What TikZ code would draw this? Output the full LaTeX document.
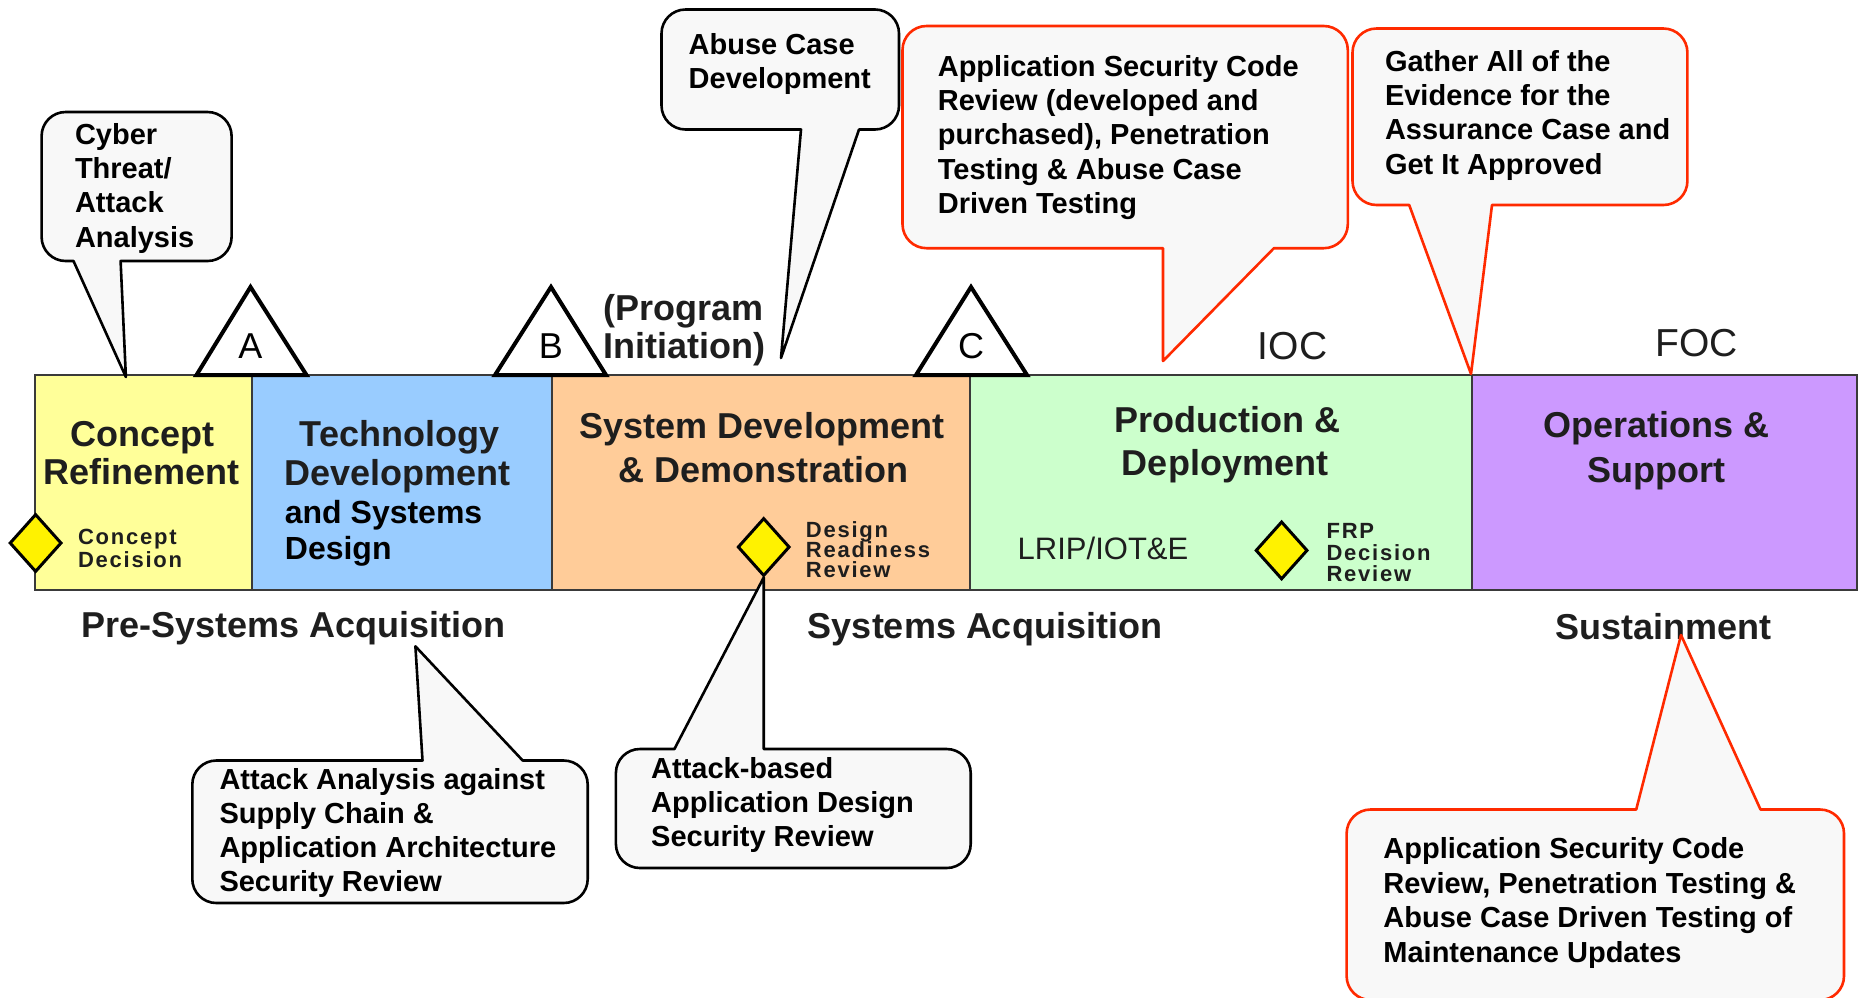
\documentclass[tikz,border=0pt]{standalone}
\usepackage{fontspec}
\setmainfont{Liberation Sans}
\newfontfamily\spacedfont[LetterSpace=8]{Liberation Sans}
\usetikzlibrary{shapes.geometric}
\definecolor{cConcept}{HTML}{FFFF99}
\definecolor{cTech}{HTML}{99CCFF}
\definecolor{cSDD}{HTML}{FFCC99}
\definecolor{cPD}{HTML}{CCFFCC}
\definecolor{cOS}{HTML}{CC99FF}
\definecolor{bubfill}{HTML}{F8F8F8}
\definecolor{bubred}{HTML}{FF2A00}
\definecolor{edgegrey}{HTML}{3A3A3A}
\definecolor{titlegrey}{HTML}{1E1E1E}
% speech bubble, pointer on bottom edge: style, x1, ytop, x2, ybot, base-left x, base-right x, tip
\newcommand{\bubdn}[8]{%
  \draw[#1] (#2+24,#3) -- (#4-24,#3) .. controls (#4-10.75,#3) and (#4,#3+10.75) .. (#4,#3+24)
    -- (#4,#5-24) .. controls (#4,#5-10.75) and (#4-10.75,#5) .. (#4-24,#5)
    -- (#7,#5) -- (#8) -- (#6,#5)
    -- (#2+24,#5) .. controls (#2+10.75,#5) and (#2,#5-10.75) .. (#2,#5-24)
    -- (#2,#3+24) .. controls (#2,#3+10.75) and (#2+10.75,#3) .. (#2+24,#3) -- cycle;}
% speech bubble, pointer on top edge
\newcommand{\bubup}[8]{%
  \draw[#1] (#2+24,#3) -- (#6,#3) -- (#8) -- (#7,#3)
    -- (#4-24,#3) .. controls (#4-10.75,#3) and (#4,#3+10.75) .. (#4,#3+24)
    -- (#4,#5-24) .. controls (#4,#5-10.75) and (#4-10.75,#5) .. (#4-24,#5)
    -- (#2+24,#5) .. controls (#2+10.75,#5) and (#2,#5-10.75) .. (#2,#5-24)
    -- (#2,#3+24) .. controls (#2,#3+10.75) and (#2+10.75,#3) .. (#2+24,#3) -- cycle;}
\begin{document}
\begin{tikzpicture}[x=1pt,y=-1pt,
  ct/.style={font=\bfseries\fontsize{29}{34}\selectfont, anchor=base west, inner sep=0},
  ttl/.style={font=\bfseries\fontsize{36}{40}\selectfont, text=titlegrey, anchor=base, inner sep=0},
  sub/.style={font=\bfseries\fontsize{32}{36}\selectfont, anchor=base west, inner sep=0},
  phaselbl/.style={font=\bfseries\fontsize{36}{40}\selectfont, text=titlegrey, anchor=base, inner sep=0},
  smalltxt/.style={font=\spacedfont\bfseries\fontsize{22}{22}\selectfont, text=titlegrey, anchor=base west, inner sep=0},
  seg/.style={draw=edgegrey, line width=2},
  tri/.style={fill=white, draw=black, line width=4, line join=miter},
  diam/.style={diamond, fill=yellow, draw=black, line width=3, minimum width=52, minimum height=58, inner sep=0},
  bubk/.style={fill=bubfill, draw=black, line width=2.6, line join=round},
  bubr/.style={fill=bubfill, draw=bubred, line width=2.6, line join=round},
  lettr/.style={font=\fontsize{36}{40}\selectfont, anchor=base, inner sep=0},
  big/.style={font=\fontsize{39}{44}\selectfont, text=titlegrey, anchor=base, inner sep=0}
]
\useasboundingbox (0,0) rectangle (1862,997);
\fill[white] (0,0) rectangle (1862,997);

% phase bar
\draw[seg, fill=cConcept] (34.8,374.5) rectangle (252,590);
\draw[seg, fill=cTech] (252,374.5) rectangle (552.4,590);
\draw[seg, fill=cSDD] (552.4,374.5) rectangle (970,590);
\draw[seg, fill=cPD] (970,374.5) rectangle (1472,590);
\draw[seg, fill=cOS] (1472,374.5) rectangle (1857,590);

% milestones
\draw[tri] (196.5,375) -- (250.5,287) -- (306.5,375) -- cycle;
\draw[tri] (495,375) -- (551,287) -- (606,375) -- cycle;
\draw[tri] (916,375) -- (971,287) -- (1027,375) -- cycle;
\node[lettr] (lA) at (250.5,358) {A};
\node[lettr] (lB) at (550.8,358) {B};
\node[lettr] (lC) at (971,358) {C};
\node[ttl, anchor=base west] (prog1) at (603.5,320) {(Program};
\node[ttl, anchor=base west] (prog2) at (603.5,358) {Initiation)};
\node[big] (ioc) at (1292.6,359) {IOC};
\node[big] (foc) at (1696.8,356) {FOC};

% phase titles
\node[ttl] (cr1) at (142.3,446.5) {Concept};
\node[ttl] (cr2) at (141.3,484) {Refinement};
\node[ttl] (td1) at (399.4,446.5) {Technology};
\node[ttl] (td2) at (397.3,485) {Development};
\node[sub] (td3) at (284.7,523.5) {and Systems};
\node[sub] (td4) at (284.7,559) {Design};
\node[ttl] (sd1) at (762,438) {System Development};
\node[ttl] (sd2) at (763.7,482) {\& Demonstration};
\node[ttl] (pd1) at (1227,432.5) {Production \&};
\node[ttl] (pd2) at (1225,475.5) {Deployment};
\node[ttl] (os1) at (1656.5,437) {Operations \&};
\node[ttl] (os2) at (1656.5,482.6) {Support};

% decision points
\node[diam] (cd) at (35.6,543) {};
\node[diam] (drr) at (763.7,547) {};
\node[diam] (frp) at (1281.6,550.4) {};
\node[smalltxt] (cd1) at (77.9,544.7) {Concept};
\node[smalltxt] (cd2) at (77.9,567.4) {Decision};
\node[smalltxt] (drr1) at (805.7,537) {Design};
\node[smalltxt] (drr2) at (805.7,557.3) {Readiness};
\node[smalltxt] (drr3) at (805.7,577.6) {Review};
\node[smalltxt] (frp1) at (1326.4,538.5) {FRP};
\node[smalltxt] (frp2) at (1326.4,560) {Decision};
\node[smalltxt] (frp3) at (1326.4,581.5) {Review};
\node[font=\fontsize{31}{34}\selectfont, text=titlegrey, anchor=base, inner sep=0] (lrip) at (1103,559.5) {LRIP/IOT\&E};

% phase groups
\node[phaselbl] (pre) at (293.3,637) {Pre-Systems Acquisition};
\node[phaselbl] (sys) at (985,638) {Systems Acquisition};
\node[phaselbl] (sus) at (1663,639) {Sustainment};

% callout tips
\coordinate (tipCyber) at (125.9,377);
\coordinate (tipAbuse) at (781,358);
\coordinate (tipCode) at (1163,361);
\coordinate (tipEvid) at (1471,374);
\coordinate (tipSupply) at (415.4,646.3);
\coordinate (tipMaint) at (1681,635);

% callouts
\bubdn{bubk}{41.6}{112}{231.6}{261}{73.5}{120.6}{tipCyber}
\foreach \t [count=\i from 0] in {Cyber,Threat/,Attack,Analysis}
  \node[ct] (cyb\i) at (74.8,{144+34.4*\i}) {\t};

\bubdn{bubk}{661.5}{9.5}{899}{129.5}{801}{859}{tipAbuse}
\foreach \t [count=\i from 0] in {Abuse Case,Development}
  \node[ct] (abu\i) at (688.5,{54+34.4*\i}) {\t};

\bubdn{bubr}{902.5}{26}{1347.8}{248.2}{1163}{1273.9}{tipCode}
\foreach \t [count=\i from 0] in {Application Security Code,Review (developed and,{purchased), Penetration},Testing \& Abuse Case,Driven Testing}
  \node[ct] (cod\i) at (937.6,{76+34.4*\i}) {\t};

\bubdn{bubr}{1352.5}{28.5}{1687.4}{205}{1409.2}{1492}{tipEvid}
\foreach \t [count=\i from 0] in {Gather All of the,Evidence for the,Assurance Case and,Get It Approved}
  \node[ct] (evi\i) at (1384.8,{71.2+34.3*\i}) {\t};

\bubup{bubk}{192.3}{760.5}{587.7}{903}{422.5}{522.7}{tipSupply}
\foreach \t [count=\i from 0] in {Attack Analysis against,Supply Chain \&,Application Architecture,Security Review}
  \node[ct] (sup\i) at (219.3,{789.3+34.2*\i}) {\t};

\bubup{bubk}{615.9}{749}{970.7}{868}{674.4}{763.7}{drr.south}
\foreach \t [count=\i from 0] in {Attack-based,Application Design,Security Review}
  \node[ct] (des\i) at (651,{778.7+34*\i}) {\t};

\bubup{bubr}{1346.6}{809.5}{1844}{1000}{1636.2}{1760.5}{tipMaint}
\foreach \t [count=\i from 0] in {Application Security Code,{Review, Penetration Testing \&},Abuse Case Driven Testing of,Maintenance Updates}
  \node[ct] (mai\i) at (1383.2,{858.5+34.5*\i}) {\t};
\end{tikzpicture}
\end{document}
